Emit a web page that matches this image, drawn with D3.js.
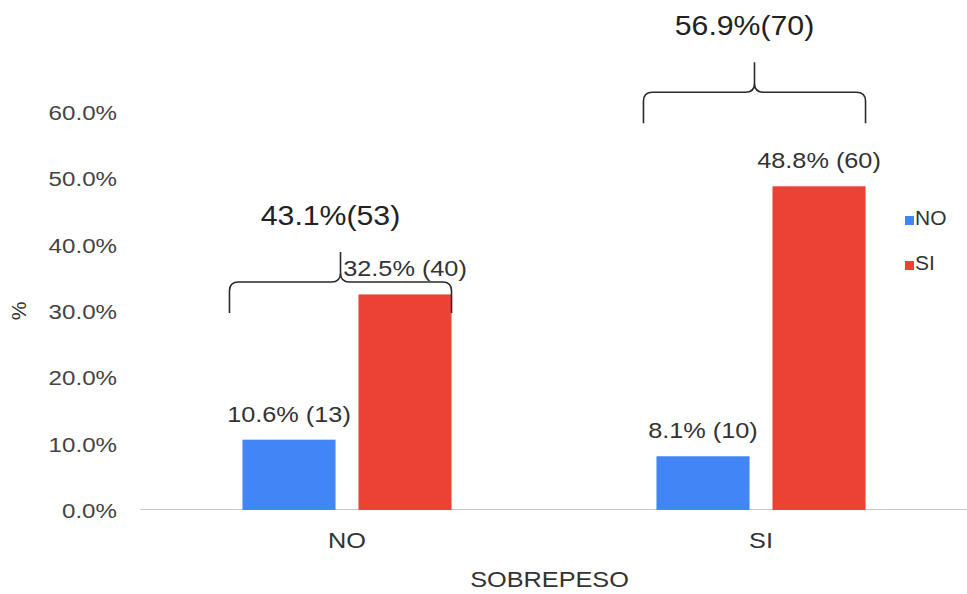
<!DOCTYPE html>
<html>
<head>
<meta charset="utf-8">
<script src="https://cdn.jsdelivr.net/npm/d3@7"></script>
<style>
  html, body { margin: 0; padding: 0; background: #fff; }
  svg { display: block; font-family: "Liberation Sans", Arial, sans-serif; }
</style>
</head>
<body>
<svg id="chart" width="967" height="594"></svg>
<script>
// ---- data ----
const categories = ["NO", "SI"];          // SOBREPESO
const seriesNames = ["NO", "SI"];
const seriesNO = [10.6, 8.1];             // %
const seriesSI = [32.5, 48.8];            // %
const countsNO = [13, 10];
const countsSI = [40, 60];
const totalPct = [43.1, 56.9];
const totalCount = [53, 70];
const yTicks = [0, 10, 20, 30, 40, 50, 60];

// annotation layout (brace base level, in value units)
const braceBase = [29.7, 58.3];

const colors = { NO: "#4285F4", SI: "#EA4335" };
const SX = 1.15; // horizontal text stretch

const svg = d3.select("#chart");
const W = 967, H = 594;
const plot = { left: 140, right: 968, top: 112, bottom: 510 };

const x0 = d3.scaleBand().domain(categories).range([plot.left, plot.right])
  .paddingInner(0.495).paddingOuter(0.2475);
const x1 = d3.scaleBand().domain(seriesNames).range([0, x0.bandwidth()])
  .paddingInner(0.198);
const y = d3.scaleLinear().domain([0, 60]).range([plot.bottom, plot.top]);

const rows = categories.map((c, i) => ({
  cat: c,
  values: [
    { s: "NO", v: seriesNO[i], n: countsNO[i] },
    { s: "SI", v: seriesSI[i], n: countsSI[i] }
  ]
}));

function stretchText(sel, x, yy, sx) {
  sel.attr("transform", `translate(${x},${yy}) scale(${sx},1)`);
}

// y axis
const yAxis = d3.axisLeft(y).tickValues(yTicks).tickSize(0).tickPadding(0)
  .tickFormat(d => d.toFixed(1) + "%");
const gy = svg.append("g").attr("transform", `translate(${plot.left},0)`).call(yAxis);
gy.select(".domain").remove();
gy.selectAll("text")
  .attr("x", null).attr("dy", "0.36em")
  .attr("transform", `translate(-23,0) scale(${SX},1)`)
  .style("font-size", "21px").style("fill", "#444")
  .style("font-family", "'Liberation Sans', Arial, sans-serif");

// baseline
svg.append("line")
  .attr("x1", plot.left).attr("x2", W)
  .attr("y1", y(0) - 0.5).attr("y2", y(0) - 0.5)
  .attr("stroke", "#c8c8c8").attr("stroke-width", 1.2);

// bars
const groups = svg.append("g").selectAll("g").data(rows).join("g")
  .attr("transform", d => `translate(${x0(d.cat)},0)`);

groups.selectAll("rect").data(d => d.values).join("rect")
  .attr("x", d => x1(d.s))
  .attr("width", x1.bandwidth())
  .attr("y", d => y(d.v))
  .attr("height", d => y(0) - y(d.v))
  .attr("fill", d => colors[d.s]);

groups.selectAll("text.val").data(d => d.values).join("text")
  .attr("class", "val")
  .attr("text-anchor", "middle")
  .style("font-size", "22px").style("fill", "#333")
  .text(d => `${d.v.toFixed(1)}% (${d.n})`)
  .each(function(d) {
    stretchText(d3.select(this), x1(d.s) + x1.bandwidth() / 2, y(d.v) - 18, SX);
  });

// x category labels
categories.forEach(c => {
  svg.append("text").attr("text-anchor", "middle")
    .style("font-size", "22px").style("fill", "#333")
    .text(c)
    .call(s => stretchText(s, x0(c) + x0.bandwidth() / 2, 548, SX));
});

// axis titles
svg.append("text").attr("text-anchor", "middle")
  .style("font-size", "22px").style("fill", "#333")
  .text("SOBREPESO")
  .call(s => stretchText(s, (plot.left + W) / 2 - 4, 587, SX));

svg.append("text").attr("text-anchor", "middle")
  .style("font-size", "21px").style("fill", "#333")
  .attr("transform", `translate(26,${y(30)}) rotate(-90)`)
  .text("%");

// braces + totals
categories.forEach((c, i) => {
  const xa = x0(c) - 13, xb = x0(c) + x0.bandwidth();
  const xm = (xa + xb) / 2;
  const yb = y(braceBase[i]);
  const yh = yb - 31;
  const yt = yh - 30;
  const r = 9;
  const p = `M${xa},${yb} L${xa},${yh + r} Q${xa},${yh} ${xa + r},${yh} L${xm - r},${yh} Q${xm},${yh} ${xm},${yh - r} L${xm},${yt}` +
            ` M${xm},${yh - r} Q${xm},${yh} ${xm + r},${yh} L${xb - r},${yh} Q${xb},${yh} ${xb},${yh + r} L${xb},${yb}`;
  svg.append("path").attr("d", p).attr("fill", "none")
    .attr("stroke", "#2a2a2a").attr("stroke-width", 1.6);
  svg.append("text").attr("text-anchor", "middle")
    .style("font-size", "28px").style("fill", "#222")
    .text(`${totalPct[i].toFixed(1)}%(${totalCount[i]})`)
    .call(s => stretchText(s, xm - 10, yt - 27, 1.08));
});

// legend
const legend = svg.append("g");
seriesNames.forEach((s, i) => {
  const ly = 225 + i * 45;
  legend.append("rect").attr("x", 905).attr("y", ly - 9).attr("width", 9).attr("height", 9)
    .attr("fill", colors[s]);
  legend.append("text").style("font-size", "20px").style("fill", "#333")
    .text(s)
    .call(t => stretchText(t, 915, ly, 1.05));
});
</script>
</body>
</html>
